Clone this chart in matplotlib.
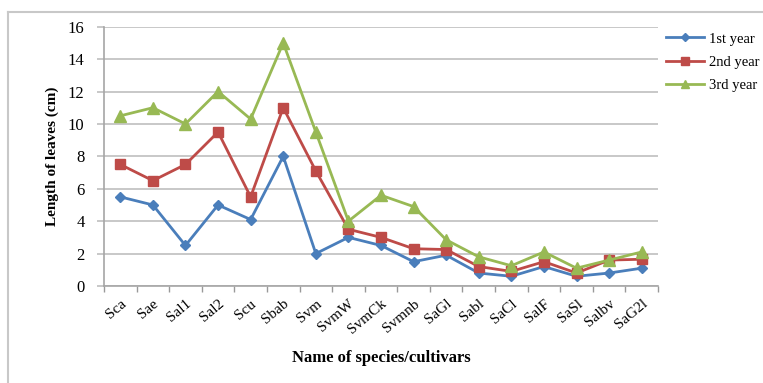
import matplotlib
matplotlib.use("Agg")
import matplotlib.pyplot as plt
from matplotlib.lines import Line2D
from matplotlib.ticker import FixedLocator
import numpy as np

CATEGORIES = ["Sca", "Sae", "Sal1", "Sal2", "Scu", "Sbab", "Svm", "SvmW", "SvmCk",
              "Svmnb", "SaGl", "Sabl", "SaCl", "SalF", "SaSl", "Salbv", "SaG2l"]
YEAR1 = [5.5, 5.0, 2.5, 5.0, 4.1, 8.0, 2.0, 3.0, 2.5, 1.5, 1.9, 0.8, 0.6, 1.2, 0.6, 0.8, 1.1]
YEAR2 = [7.5, 6.5, 7.5, 9.5, 5.5, 11.0, 7.1, 3.5, 3.0, 2.3, 2.25, 1.2, 0.9, 1.5, 0.8, 1.6, 1.65]
YEAR3 = [10.5, 11.0, 10.0, 12.0, 10.3, 15.0, 9.5, 4.0, 5.6, 4.9, 2.85, 1.8, 1.25, 2.1, 1.1, 1.6, 2.1]
SERIES = ["1st year", "2nd year", "3rd year"]

W, H = 763, 383
plt.rcParams["font.family"] = ["Liberation Serif", "DejaVu Serif"]

fig = plt.figure(figsize=(W / 100, H / 100), dpi=100)
ax = fig.add_axes([104 / W, 1 - 286 / H, (658 - 104) / W, (286 - 26.7) / H])

x = np.arange(len(CATEGORIES))
styles = [
    ("#4a7ebb", "D", 5.5),
    ("#be4b48", "s", 7),
    ("#98b954", "^", 8),
]
for vals, label, (color, marker, ms) in zip([YEAR1, YEAR2, YEAR3], SERIES, styles):
    ax.plot(x, vals, color=color, marker=marker, markersize=ms, linewidth=2.0,
            label=label, markeredgecolor=color)

ax.set_xlim(-0.5, len(CATEGORIES) - 0.5)
ax.set_ylim(0, 16)
ax.set_yticks(np.arange(0, 17, 2))
ax.yaxis.grid(True, color="#bfbfbf", linewidth=1.2)
ax.set_axisbelow(True)

ax.set_xticks(x)
ax.set_xticklabels(CATEGORIES, rotation=40, ha="right", rotation_mode="anchor", fontsize=11)
ax.tick_params(axis="x", which="major", length=0, pad=8)
ax.xaxis.set_minor_locator(FixedLocator(np.arange(-0.5, len(CATEGORIES), 1.0)))
ax.tick_params(axis="x", which="minor", length=4, color="#999999", width=1)
ax.tick_params(axis="y", length=5, color="#bfbfbf", width=1.2, labelsize=12, pad=9)

for side in ["top", "right"]:
    ax.spines[side].set_visible(False)
for side in ["left", "bottom"]:
    ax.spines[side].set_color("#a6a6a6")
    ax.spines[side].set_linewidth(1.2)

ax.set_ylabel("Length of leaves (cm)", fontsize=11, fontweight="bold", labelpad=6)
fig.text(381 / W, 1 - 358 / H, "Name of species/cultivars", fontsize=12,
         fontweight="bold", ha="center", va="center")

ax.legend(loc="upper left", bbox_to_anchor=(662 / W, 1 - 28 / H), bbox_transform=fig.transFigure,
          frameon=False, fontsize=10.5, handlelength=2.6, handletextpad=0.3, labelspacing=0.7,
          borderaxespad=0, borderpad=0.3, markerscale=0.8)

fig.add_artist(Line2D([8 / W, 1], [1 - 12 / H, 1 - 12 / H], color="#c8c8c8", linewidth=1.5,
                      transform=fig.transFigure))
fig.add_artist(Line2D([8 / W, 8 / W], [0, 1 - 12 / H], color="#c8c8c8", linewidth=1.5,
                      transform=fig.transFigure))

fig.savefig("out.png", dpi=100)
